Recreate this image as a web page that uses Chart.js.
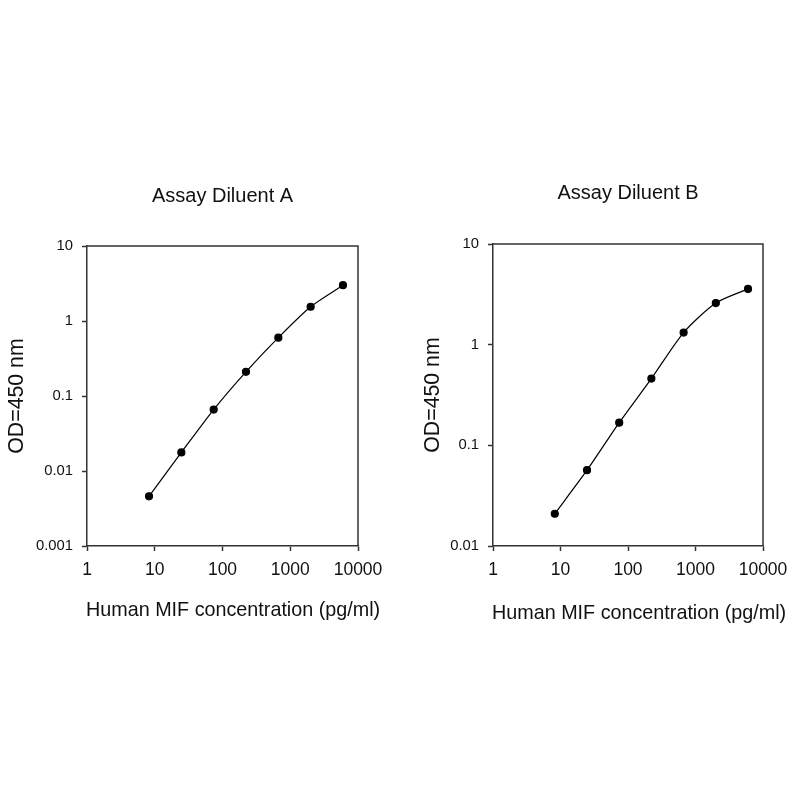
<!DOCTYPE html>
<html><head><meta charset="utf-8">
<script src="https://cdn.jsdelivr.net/npm/chart.js@4/dist/chart.umd.min.js"></script>
<style>
html,body{margin:0;padding:0;background:#fff;width:800px;height:800px;overflow:hidden;}
.box{position:absolute;top:150px;width:400px;height:500px;}
</style></head>
<body>
<div class="box" style="left:0"><canvas id="cA"></canvas></div>
<div class="box" style="left:400px"><canvas id="cB"></canvas></div>
<script>
const concentrations = [8.23, 24.7, 74.1, 222, 667, 2000, 6000];
const odDiluentA = [0.0046, 0.0177, 0.066, 0.21, 0.60, 1.55, 3.0];
const odDiluentB = [0.0209, 0.0566, 0.168, 0.46, 1.32, 2.59, 3.58];
const xTickValues = [1, 10, 100, 1000, 10000];
const xTickLabels = ["1", "10", "100", "1000", "10000"];
const yTickValuesA = [0.001, 0.01, 0.1, 1, 10];
const yTickLabelsA = ["0.001", "0.01", "0.1", "1", "10"];
const yTickValuesB = [0.01, 0.1, 1, 10];
const yTickLabelsB = ["0.01", "0.1", "1", "10"];
const titles = ["Assay Diluent A", "Assay Diluent B"];
const xTitle = "Human MIF concentration (pg/ml)";
const yTitle = "OD=450 nm";

const FONT = "'Liberation Sans', Arial, sans-serif";
const TXT = '#111';
const AX = '#333';

const framePlugin = {
  id: 'frame',
  afterDraw(chart, args, opts) {
    const a = chart.chartArea, c = chart.ctx;
    c.save();
    c.strokeStyle = AX; c.lineWidth = 1.5;
    c.beginPath();
    c.moveTo(a.left, a.top); c.lineTo(a.right, a.top); c.lineTo(a.right, a.bottom);
    c.stroke();
    // x axis title (drawn without width clamp)
    c.fillStyle = TXT;
    c.font = '19.75px ' + FONT;
    c.textAlign = 'left';
    c.textBaseline = 'middle';
    c.fillText(opts.text, a.left - 1, a.bottom + opts.offset);
    c.restore();
  }
};

function makeChart(id, title, yVals, yTickVals, yTickLbls, cfg) {
  const pts = concentrations.map((x, i) => ({x: x, y: yVals[i]}));
  return new Chart(document.getElementById(id), {
    type: 'scatter',
    data: { datasets: [{
      data: pts, showLine: true, borderColor: '#000', borderWidth: 1.2,
      backgroundColor: '#000', pointRadius: 3.5, pointHoverRadius: 3.5, tension: 0.25
    }]},
    plugins: [framePlugin],
    options: {
      responsive: true, maintainAspectRatio: false, animation: false,
      layout: { padding: cfg.pad },
      plugins: {
        legend: { display: false }, tooltip: { enabled: false },
        frame: { text: xTitle, offset: cfg.xTitleOff },
        title: { display: true, fullSize: false, text: title, color: TXT,
          font: { family: FONT, size: 20, weight: 'normal' },
          padding: { top: 4, bottom: cfg.titleBottom } }
      },
      scales: {
        x: {
          type: 'logarithmic', min: 1, max: 10000,
          afterFit(s) { s.height = cfg.xh; },
          afterBuildTicks(s) { s.ticks = xTickValues.map(v => ({value: v})); },
          grid: { drawOnChartArea: false, drawTicks: true, tickLength: 5, tickColor: AX, tickWidth: 1.5 },
          border: { display: true, color: AX, width: 1.5 },
          ticks: { color: TXT, padding: 9, maxRotation: 0, autoSkip: false,
            font: { family: FONT, size: 17.5 },
            callback: (v, i) => xTickLabels[i] },
          title: { display: false }
        },
        y: {
          type: 'logarithmic', min: yTickVals[0], max: yTickVals[yTickVals.length - 1],
          afterFit(s) { s.width = cfg.yw; },
          afterBuildTicks(s) { s.ticks = yTickVals.map(v => ({value: v})); },
          grid: { drawOnChartArea: false, drawTicks: true, tickLength: 5, tickColor: AX, tickWidth: 1.5 },
          border: { display: true, color: AX, width: 1.5 },
          ticks: { color: TXT, padding: 9, autoSkip: false,
            font: { family: FONT, size: 14.8 },
            callback: (v, i) => yTickLbls[i] },
          title: { display: true, text: yTitle, color: TXT,
            font: { family: FONT, size: 21.3 }, padding: { top: 4, bottom: 4 } }
        }
      }
    }
  });
}

makeChart('cA', titles[0], odDiluentA, yTickValuesA, yTickLabelsA,
  { pad: {top: 30, left: 0, right: 42, bottom: 23}, titleBottom: 38, xh: 81, yw: 87, xTitleOff: 65 });
makeChart('cB', titles[1], odDiluentB, yTickValuesB, yTickLabelsB,
  { pad: {top: 27, left: 16, right: 37, bottom: 20}, titleBottom: 39, xh: 84, yw: 77, xTitleOff: 68 });
</script>
</body></html>
